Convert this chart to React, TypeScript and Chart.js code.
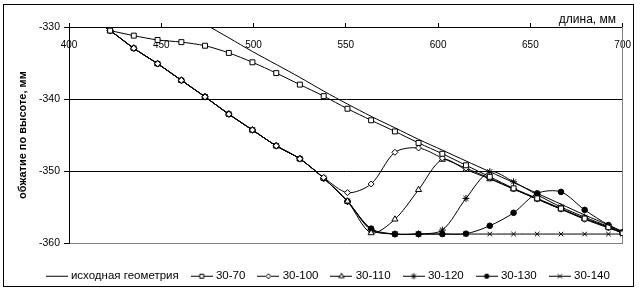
import React, { useEffect, useRef } from 'react';
import { Chart, registerables } from 'chart.js';

Chart.register(...registerables);

const FONT = "'Liberation Sans', Arial, sans-serif";

const xPositions = [409.4, 422.3, 435.1, 448.0, 460.9, 473.7, 486.6, 499.4, 512.3, 525.1, 538.0, 550.9, 563.7, 576.6, 589.4, 602.3, 615.1, 628.0, 640.9, 653.7, 666.6, 679.4, 692.3, 700];

const seriesNames = ['исходная геометрия', '30-70', '30-100', '30-110', '30-120', '30-130', '30-140'];

const original = [null, null, null, null, null, -329.6, -331.5, -333.4, -335.2, -337.0, -338.9, -340.7, -342.4, -344.0, -345.6, -347.1, -348.6, -350.1, -351.6, -353.1, -354.6, -356.1, -357.5, -358.4];
const s30_70 = [null, -330.5, -331.2, -331.8, -332.1, -332.6, -333.6, -334.9, -336.4, -338.0, -339.6, -341.35, -342.95, -344.5, -346.1, -347.6, -349.2, -350.8, -352.4, -353.8, -355.2, -356.6, -357.8, -358.6];
const s30_100 = [-328.3, -330.5, -332.95, -335.1, -337.4, -339.7, -342.1, -344.3, -346.5, -348.3, -350.9, -353.0, -351.8, -347.4, -346.8, -348.2, -349.6, -351.0, -352.5, -353.9, -355.3, -356.7, -357.9, -358.6];
const s30_110 = [-328.3, -330.5, -332.95, -335.1, -337.4, -339.7, -342.1, -344.3, -346.5, -348.3, -351.0, -354.2, -358.6, -356.7, -352.6, -348.4, -349.8, -351.1, -352.5, -353.9, -355.3, -356.6, -357.8, -358.6];
const s30_120 = [-328.3, -330.5, -332.95, -335.1, -337.4, -339.7, -342.1, -344.3, -346.5, -348.3, -351.0, -354.2, -358.1, -358.75, -358.75, -358.2, -353.8, -350.1, -351.5, -353.3, -355.0, -356.4, -357.7, -358.5];
const s30_130 = [-328.3, -330.5, -332.95, -335.1, -337.4, -339.7, -342.1, -344.3, -346.5, -348.3, -351.0, -354.2, -358.0, -358.75, -358.75, -358.75, -358.7, -357.6, -355.8, -353.1, -352.9, -355.4, -357.5, -358.5];
const s30_140 = [-328.3, -330.5, -332.95, -335.1, -337.4, -339.7, -342.1, -344.3, -346.5, -348.3, -351.0, -354.2, -358.2, -358.75, -358.75, -358.75, -358.75, -358.75, -358.75, -358.75, -358.75, -358.75, -358.75, -358.75];

const seriesValues = [original, s30_70, s30_100, s30_110, s30_120, s30_130, s30_140];
const xTickStep = 50;
const yTickStep = 10;

type MarkerDef = { style: string | false; radius: number; fill: string };
const markers: MarkerDef[] = [
  { style: false, radius: 0, fill: '#fff' },
  { style: 'rect', radius: 3.5, fill: '#fff' },
  { style: 'rectRot', radius: 3, fill: '#fff' },
  { style: 'triangle', radius: 3.5, fill: '#fff' },
  { style: 'star', radius: 3.5, fill: '#000' },
  { style: 'circle', radius: 2.8, fill: '#000' },
  { style: 'crossRot', radius: 3.2, fill: '#000' },
];

function makeIcon(style: string | false, fill: string): HTMLCanvasElement {
  const c = document.createElement('canvas');
  c.width = 22;
  c.height = 9;
  const g = c.getContext('2d')!;
  g.strokeStyle = '#000';
  g.lineWidth = 1;
  g.beginPath();
  g.moveTo(0, 4.5);
  g.lineTo(22, 4.5);
  g.stroke();
  const cx = 11, cy = 4.5;
  g.fillStyle = fill;
  g.beginPath();
  if (style === 'rect') {
    g.rect(cx - 2, cy - 2, 4, 4);
    g.fill(); g.stroke();
  } else if (style === 'rectRot') {
    g.moveTo(cx - 2.5, cy); g.lineTo(cx, cy - 2.5); g.lineTo(cx + 2.5, cy); g.lineTo(cx, cy + 2.5); g.closePath();
    g.fill(); g.stroke();
  } else if (style === 'triangle') {
    g.moveTo(cx, cy - 3); g.lineTo(cx + 2.6, cy + 1.5); g.lineTo(cx - 2.6, cy + 1.5); g.closePath();
    g.fill(); g.stroke();
  } else if (style === 'star') {
    g.moveTo(cx - 3, cy); g.lineTo(cx + 3, cy);
    g.moveTo(cx, cy - 3); g.lineTo(cx, cy + 3);
    g.moveTo(cx - 2.1, cy - 2.1); g.lineTo(cx + 2.1, cy + 2.1);
    g.moveTo(cx - 2.1, cy + 2.1); g.lineTo(cx + 2.1, cy - 2.1);
    g.stroke();
  } else if (style === 'circle') {
    g.arc(cx, cy, 2.2, 0, Math.PI * 2);
    g.fill(); g.stroke();
  } else if (style === 'crossRot') {
    g.moveTo(cx - 2.2, cy - 2.2); g.lineTo(cx + 2.2, cy + 2.2);
    g.moveTo(cx - 2.2, cy + 2.2); g.lineTo(cx + 2.2, cy - 2.2);
    g.stroke();
  }
  return c;
}

const framePlugin = {
  id: 'outerFrame',
  afterDraw(chart: any) {
    const ctx = chart.ctx;
    ctx.save();
    ctx.strokeStyle = '#000';
    ctx.lineWidth = 1;
    ctx.strokeRect(3.5, 4.5, 630, 282);
    ctx.restore();
  },
};

export default function App() {
  const canvasRef = useRef<HTMLCanvasElement | null>(null);

  useEffect(() => {
    document.body.style.margin = '0';
    const canvas = canvasRef.current;
    if (!canvas) return;
    const icons = markers.map((m) => makeIcon(m.style, m.fill));

    const datasets = seriesNames.map((name, i) => ({
      label: name,
      data: xPositions.map((x, j) => ({ x, y: seriesValues[i][j] })),
      borderColor: '#000',
      borderWidth: 1,
      pointStyle: markers[i].style as any,
      pointRadius: markers[i].radius,
      pointHoverRadius: markers[i].radius,
      pointBorderColor: '#000',
      pointBackgroundColor: markers[i].fill,
      pointBorderWidth: 1,
      tension: 0.3,
      fill: false,
    }));

    const chart = new Chart(canvas, {
      type: 'line',
      data: { datasets: datasets as any },
      plugins: [framePlugin],
      options: {
        animation: false,
        responsive: false,
        maintainAspectRatio: false,
        events: [],
        layout: { padding: { left: 15, right: 0, top: 0, bottom: 0 } },
        font: { family: FONT },
        scales: {
          x: {
            type: 'linear',
            position: 'top',
            min: 400,
            max: 700,
            ticks: {
              stepSize: xTickStep,
              mirror: true,
              padding: 12,
              maxRotation: 0,
              color: '#000',
              font: { family: FONT, size: 10 },
            },
            grid: { drawOnChartArea: false, drawTicks: true, tickLength: 4, tickColor: '#000' },
            border: { color: '#000', width: 1 },
            title: {
              display: true,
              text: 'длина, мм  ',
              align: 'end',
              color: '#000',
              padding: { top: 12, bottom: 0 },
              font: { family: FONT, size: 12 },
            },
            afterFit: (s: any) => { s.height = 27; },
          },
          y: {
            type: 'linear',
            position: 'left',
            min: -360,
            max: -330,
            ticks: {
              stepSize: yTickStep,
              padding: 4,
              color: '#000',
              font: { family: FONT, size: 10.5 },
            },
            grid: {
              color: (ctx: any) => (ctx.tick && ctx.tick.value === -360 ? '#808080' : '#000'),
              tickColor: '#000',
              tickLength: 5,
              drawTicks: true,
            },
            border: { color: '#000', width: 1 },
            title: {
              display: true,
              text: 'обжатие по высоте, мм',
              color: '#000',
              padding: { top: 1.5, bottom: 0 },
              font: { family: FONT, size: 11, weight: 'bold' },
            },
            afterFit: (s: any) => { s.width = 54; },
          },
          y2: {
            type: 'linear',
            position: 'right',
            min: -360,
            max: -330,
            ticks: { display: false },
            grid: { drawOnChartArea: false, drawTicks: false },
            border: { color: '#808080', width: 1 },
            afterFit: (s: any) => { s.width = 19; },
          },
        },
        plugins: {
          tooltip: { enabled: false },
          legend: {
            position: 'bottom',
            title: { display: true, text: '', padding: { top: 11.75, bottom: 0 }, font: { size: 1 } },
            labels: {
              usePointStyle: true,
              pointStyleWidth: 17,
              padding: 14.5,
              color: '#000',
              font: { family: FONT, size: 11.5 },
              generateLabels: (ch: any) => {
                const items = (Chart.defaults.plugins.legend.labels as any).generateLabels(ch);
                return items.map((it: any, i: number) => ({ ...it, pointStyle: icons[i], lineWidth: 0 }));
              },
            },
          },
        },
      } as any,
    });

    return () => chart.destroy();
  }, []);

  return (
    <div style={{ width: 643, height: 292, background: '#fff' }}>
      <canvas ref={canvasRef} width={643} height={292} style={{ display: 'block' }} />
    </div>
  );
}
